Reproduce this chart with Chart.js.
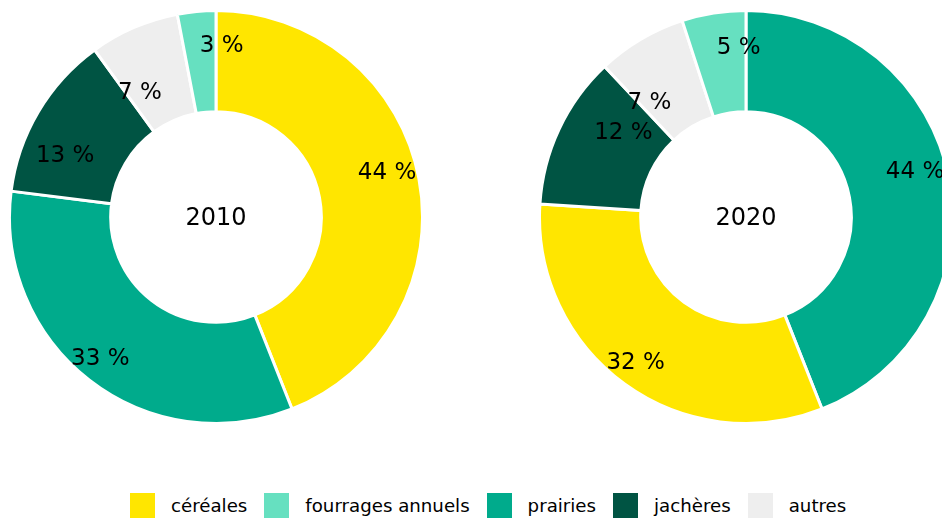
<!DOCTYPE html>
<html>
<head>
<meta charset="utf-8">
<script src="https://cdn.jsdelivr.net/npm/chart.js@4"></script>
<style>
  html, body { margin: 0; padding: 0; width: 942px; height: 518px; overflow: hidden; background: #fff; }
  body { position: relative; font-family: "DejaVu Sans", sans-serif; }
  canvas { position: absolute; }
  #left { left: 8px; top: 9px; }
  #right { left: 538px; top: 9px; }
  #legend { position: absolute; left: 130px; top: 493px; display: flex; align-items: center; font-size: 18.2px; color: #000; }
  #legend .item { display: flex; align-items: center; margin-right: 17px; }
  #legend .box { width: 25px; height: 25px; margin-right: 16px; }
</style>
</head>
<body>
<canvas id="left" width="416" height="416"></canvas>
<canvas id="right" width="416" height="416"></canvas>
<div id="legend"></div>
<script>
const categories = ['céréales', 'fourrages annuels', 'prairies', 'jachères', 'autres'];
const colors = ['#ffe600', '#66e0c0', '#00ab8c', '#005443', '#eeeeee'];

// order drawn clockwise from the top, per year
const order2010 = [0, 2, 3, 4, 1];
const values2010 = [44, 3, 33, 13, 7];
const order2020 = [2, 0, 3, 4, 1];
const values2020 = [32, 5, 44, 12, 7];

const centerText = {
  id: 'centerText',
  afterDraw(chart, args, opts) {
    const ctx = chart.ctx;
    const arc = chart.getDatasetMeta(0).data[0];
    ctx.save();
    ctx.font = '24px "DejaVu Sans"';
    ctx.fillStyle = '#000';
    ctx.textAlign = 'center';
    ctx.textBaseline = 'middle';
    ctx.fillText(opts.text, arc.x, arc.y + 2);
    ctx.restore();
  }
};

// percent labels at mid-angle of each slice, with small per-label nudges
const pctLabels = {
  id: 'pctLabels',
  afterDatasetsDraw(chart, args, opts) {
    const ctx = chart.ctx;
    const ds = chart.data.datasets[0];
    const meta = chart.getDatasetMeta(0);
    const nudge = opts.nudge || [];
    ctx.save();
    ctx.font = '23px "DejaVu Sans"';
    ctx.fillStyle = '#000';
    ctx.textAlign = 'center';
    ctx.textBaseline = 'middle';
    meta.data.forEach((arc, i) => {
      const p = arc.getProps(['x', 'y', 'startAngle', 'endAngle', 'innerRadius', 'outerRadius'], true);
      const mid = (p.startAngle + p.endAngle) / 2;
      const r = p.innerRadius + 0.68 * (p.outerRadius - p.innerRadius);
      const [dx, dy] = nudge[i] || [0, 0];
      ctx.fillText(ds.data[i] + ' %', p.x + Math.cos(mid) * r + dx, p.y + Math.sin(mid) * r + dy);
    });
    ctx.restore();
  }
};

function makeDonut(id, order, values, year, nudge) {
  const data = order.map(k => values[k]);
  new Chart(document.getElementById(id), {
    type: 'doughnut',
    data: {
      labels: order.map(k => categories[k]),
      datasets: [{
        data,
        backgroundColor: order.map(k => colors[k]),
        borderColor: '#ffffff',
        borderWidth: 3
      }]
    },
    options: {
      responsive: false,
      animation: false,
      cutout: '51%',
      layout: { padding: 0 },
      plugins: {
        legend: { display: false },
        tooltip: { enabled: false },
        centerText: { text: year },
        pctLabels: { nudge }
      }
    },
    plugins: [pctLabels, centerText]
  });
}

makeDonut('left', order2010, values2010, '2010', [[0, -11], [-9, 4], [-1, 28], [-7, 36], [22, 2]]);
makeDonut('right', order2020, values2020, '2020', [[-2, -12], [-8, 5], [35, -10], [-8, 36], [20, 3]]);

const legend = document.getElementById('legend');
categories.forEach((c, i) => {
  const item = document.createElement('div');
  item.className = 'item';
  const box = document.createElement('span');
  box.className = 'box';
  box.style.background = colors[i];
  const label = document.createElement('span');
  label.textContent = c;
  item.appendChild(box);
  item.appendChild(label);
  legend.appendChild(item);
});
</script>
</body>
</html>
